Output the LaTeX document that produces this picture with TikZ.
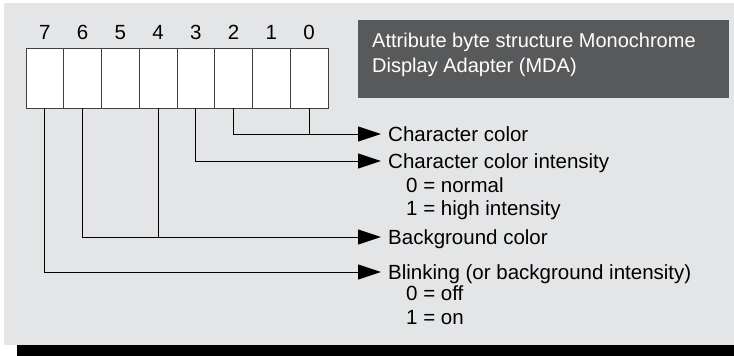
\documentclass[tikz,border=0pt]{standalone}
\usepackage{fontspec}
\setmainfont{Liberation Sans}
\usetikzlibrary{arrows.meta}
\definecolor{panelgray}{RGB}{228,229,231}
\definecolor{titlegray}{RGB}{88,89,91}
\tikzset{
  big/.style={font=\fontsize{20.5}{25}\selectfont},
  bitcell/.style={draw=black!75, line width=1pt, fill=white, minimum width=37.75pt,
                  minimum height=60pt, inner sep=0pt, outer sep=0pt},
  bitnum/.style={big, anchor=base, inner sep=0pt},
  titlebox/.style={fill=titlegray, anchor=north west, minimum width=371pt, minimum height=78pt,
                   inner sep=0pt},
  titletext/.style={font=\fontsize{20}{25}\selectfont, text=white, anchor=north west, align=left, inner sep=0pt},
  lab/.style={big, anchor=west, inner sep=0pt, text height=14pt, text depth=0pt},
  wire/.style={line width=0.9pt},
  flow/.style={wire, -{Triangle[length=23pt,width=15pt]}, shorten >=7pt}
}
\begin{document}
\begin{tikzpicture}[x=1pt,y=-1pt]
\useasboundingbox (0,0) rectangle (734,356);
% background panel and bottom band
\fill[panelgray] (4,3) rectangle (734,345);
\fill[black] (17,345) rectangle (734,356);
% byte cells, bit 7 on the left
\foreach \b [count=\k from 0] in {7,...,0} {
  \node[bitcell] (b\b) at ({26+37.75*(\k+0.5)},78) {};
  \node[bitnum] (n\b) at ({26+37.75*(\k+0.5)},39) {\b};
}
% title
\node[titlebox] (title) at (358,20) {};
\node[titletext] (titletxt) at (372,32.5) {Attribute byte structure Monochrome\\Display Adapter (MDA)};
% meanings
\node[lab] (cc) at (388,134) {Character color};
\node[lab] (cci) at (388,161) {Character color intensity};
\node[lab] (cci0) at (406,185) {0 = normal};
\node[lab] (cci1) at (406,208) {1 = high intensity};
\node[lab] (bg) at (388,237) {Background color};
\node[lab] (blink) at (388,272) {Blinking (or background intensity)};
\node[lab] (blink0) at (406,293) {0 = off};
\node[lab] (blink1) at (406,317) {1 = on};
% connectors
\draw[flow] (b2.south) |- (cc.west);
\draw[wire] (b0.south) -- (b0.south |- cc.west);
\draw[flow] (b3.south) |- (cci.west);
\draw[flow] (b6.south) |- (bg.west);
\draw[wire] (b4.south) -- (b4.south |- bg.west);
\draw[flow] (b7.south) |- (blink.west);
\end{tikzpicture}
\end{document}
